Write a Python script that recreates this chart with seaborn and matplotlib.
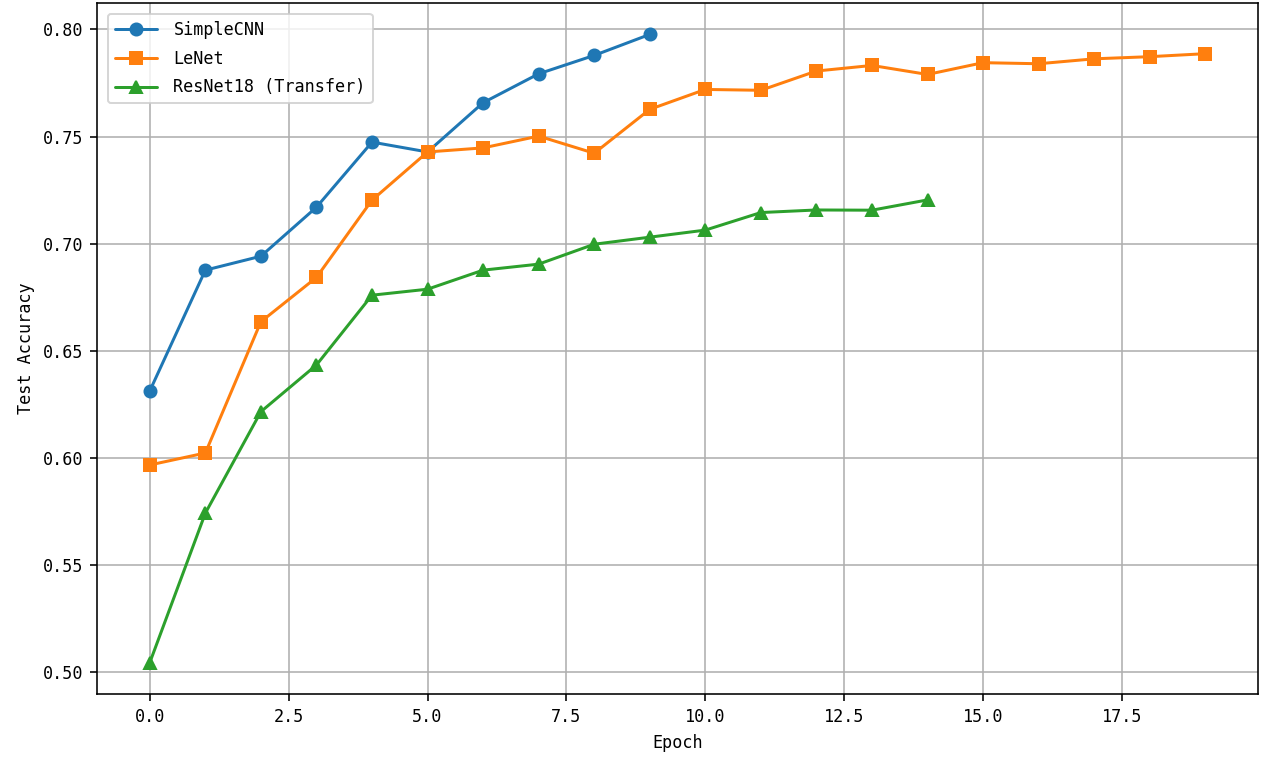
import numpy as np
import pandas as pd
import matplotlib
matplotlib.use("Agg")
import matplotlib.pyplot as plt
import seaborn as sns

# test accuracy per epoch
simplecnn_acc = [0.6312, 0.6876, 0.6941, 0.7170, 0.7474, 0.7428, 0.7658, 0.7793, 0.7879, 0.7977]
lenet_acc = [0.5966, 0.6022, 0.6635, 0.6842, 0.7203, 0.7428, 0.7447, 0.7502, 0.7422, 0.7627,
             0.7720, 0.7716, 0.7806, 0.7832, 0.7790, 0.7845, 0.7840, 0.7863, 0.7873, 0.7887]
resnet_acc = [0.5043, 0.5741, 0.6215, 0.6433, 0.6759, 0.6787, 0.6876, 0.6904, 0.6997, 0.7030,
              0.7063, 0.7145, 0.7157, 0.7156, 0.7204]

model_names = ["SimpleCNN", "LeNet", "ResNet18 (Transfer)"]
model_markers = ["o", "s", "^"]

sns.set_style("ticks", rc={
    "axes.grid": True,
    "grid.color": "#b0b0b0",
    "grid.linewidth": 0.8,
    "axes.edgecolor": "black",
    "axes.linewidth": 0.8,
    "xtick.color": "black",
    "ytick.color": "black",
    "axes.labelcolor": "black",
    "text.color": "black",
    "xtick.major.size": 3.5,
    "ytick.major.size": 3.5,
    "xtick.major.width": 0.8,
    "ytick.major.width": 0.8,
})
plt.rcParams["font.family"] = ["DejaVu Sans Mono", "Noto Sans CJK SC"]
plt.rcParams["font.size"] = 8.4

dpi = 144
fig = plt.figure(figsize=(1275 / dpi, 770 / dpi), dpi=dpi)
ax = fig.add_axes([0.0761, 0.0987, 0.9106, 0.8974])

colors = sns.color_palette("tab10", 3)
series = [simplecnn_acc, lenet_acc, resnet_acc]
for name, acc, mk, col in zip(model_names, series, model_markers, colors):
    df = pd.DataFrame({"Epoch": np.arange(len(acc)), "Test Accuracy": acc})
    sns.lineplot(data=df, x="Epoch", y="Test Accuracy", ax=ax, label=name,
                 color=col, marker=mk, markersize=6, linewidth=1.5,
                 markeredgewidth=1.0, markeredgecolor=col)

ax.set_xlabel("Epoch", fontsize=8.4)
ax.set_ylabel("Test Accuracy", fontsize=8.4)
ax.tick_params(labelsize=8.4)
ax.set_xticks([0, 2.5, 5, 7.5, 10, 12.5, 15, 17.5])
ax.set_yticks([0.50, 0.55, 0.60, 0.65, 0.70, 0.75, 0.80])
ax.yaxis.set_major_formatter(matplotlib.ticker.FormatStrFormatter("%.2f"))
ax.xaxis.set_major_formatter(matplotlib.ticker.FormatStrFormatter("%.1f"))
ax.margins(x=0.05, y=0.05)
ax.legend(loc="upper left", fontsize=8.4, frameon=True, fancybox=True,
          framealpha=0.8, edgecolor="#cccccc", handlelength=2.5,
          handletextpad=1.0, labelspacing=0.65, borderaxespad=0.65)

fig.savefig("out.png", dpi=dpi)
